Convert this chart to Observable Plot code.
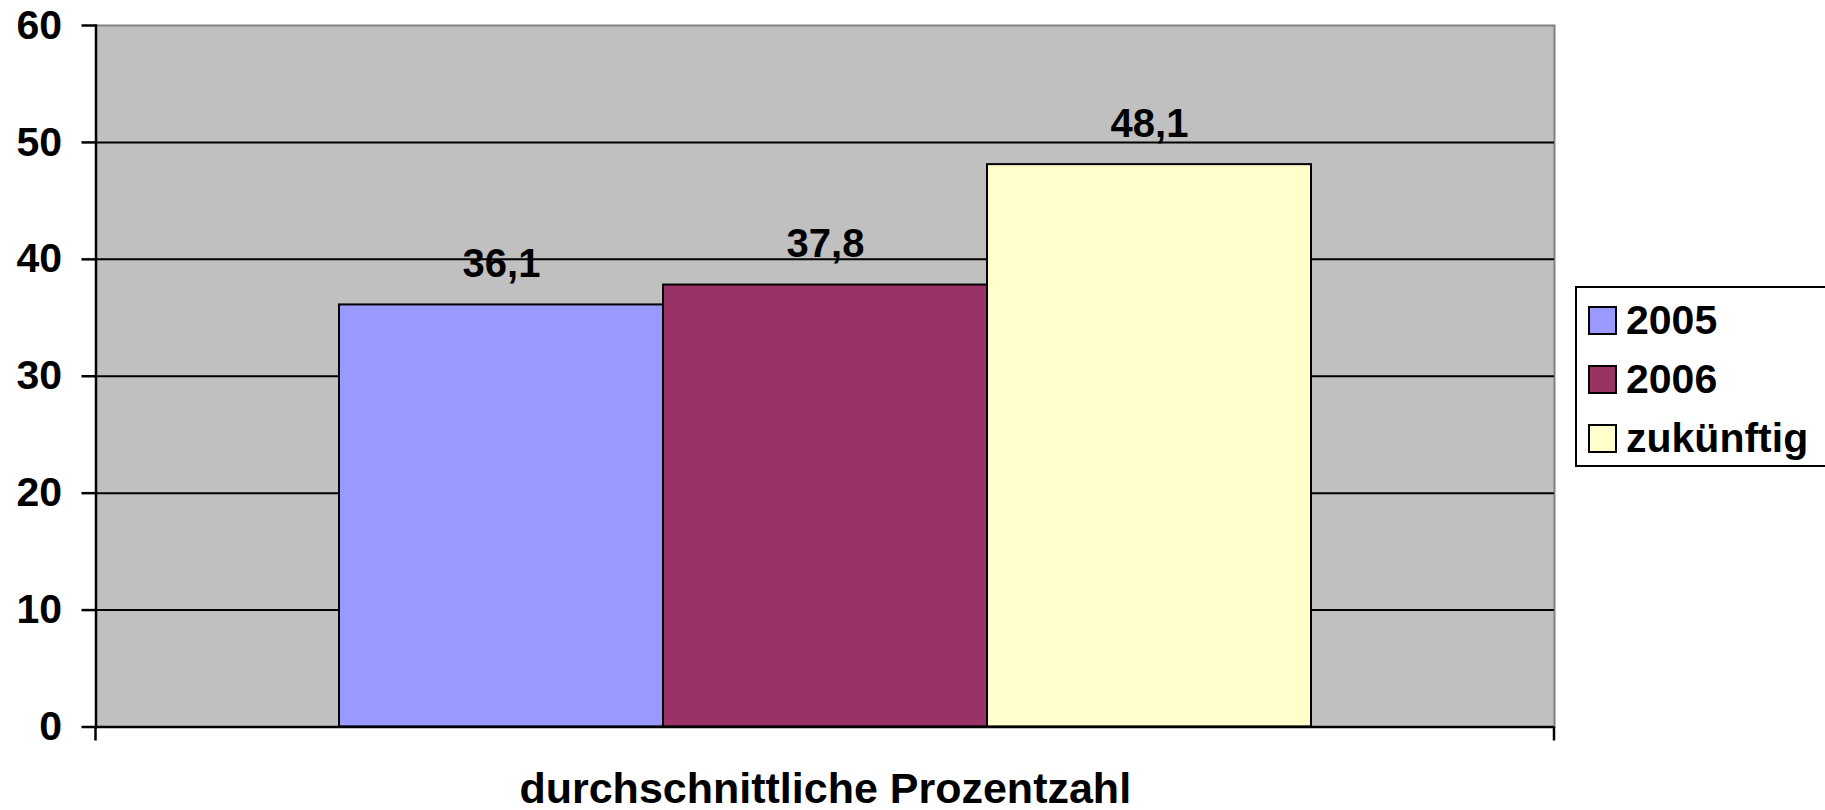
<!DOCTYPE html>
<html>
<head>
<meta charset="utf-8">
<script src="https://cdn.jsdelivr.net/npm/d3@7"></script>
<script src="https://cdn.jsdelivr.net/npm/@observablehq/plot@0.6"></script>
<style>
  html, body { margin: 0; padding: 0; background: #fff; }
  body { font-family: "Liberation Sans", Arial, sans-serif; }
  #wrap { position: relative; width: 1825px; height: 810px; overflow: hidden; }
  #legend { position: absolute; left: 1575px; top: 286px; width: 252px; height: 181px;
    border: 2px solid #000; box-sizing: border-box; background: #fff; }
  .row { position: absolute; left: 0; height: 41px; }
  .sw { position: absolute; left: 11px; width: 29px; height: 29px; border: 2px solid #000; box-sizing: border-box; }
  .lbl { position: absolute; left: 49px; font-size: 41px; font-weight: bold; line-height: 41px; white-space: nowrap; color: #000; }
</style>
</head>
<body>
<div id="wrap"></div>
<script>
const series = ["2005", "2006", "zukünftig"];
const values = [36.1, 37.8, 48.1];
const colors = ["#9999FF", "#993366", "#FFFFCC"];
const category = "durchschnittliche Prozentzahl";
const yTicks = [0, 10, 20, 30, 40, 50, 60];

const data = series.map((s, i) => ({series: s, value: values[i]}));
const fmt = v => v.toFixed(1).replace(".", ",");

const W = 1825, H = 810;
const mL = 95.5, mR = 271, mT = 25, mB = 83.5;

const edgeTicks = (index, scales, vals, dims) => {
  const g = d3.create("svg:g");
  const yb = dims.height - dims.marginBottom;
  for (const x of [dims.marginLeft, dims.width - dims.marginRight]) {
    g.append("line").attr("x1", x).attr("x2", x).attr("y1", yb).attr("y2", yb + 14)
      .attr("stroke", "#000").attr("stroke-width", 2.5);
  }
  return g.node();
};

const plot = Plot.plot({
  width: W, height: H,
  marginLeft: mL, marginRight: mR, marginTop: mT, marginBottom: mB,
  style: {fontFamily: "'Liberation Sans', Arial, sans-serif", background: "transparent", overflow: "visible"},
  x: {domain: series, paddingInner: 0, paddingOuter: 0.745, axis: null},
  y: {domain: [0, 60], axis: null},
  color: {domain: series, range: colors},
  marks: [
    Plot.frame({fill: "#C0C0C0", stroke: "#808080", strokeWidth: 2}),
    Plot.gridY(yTicks.filter(d => d > 0 && d < 60), {stroke: "#000", strokeOpacity: 1, strokeWidth: 2}),
    Plot.barY(data, {x: "series", y: "value", fill: "series", stroke: "#000", strokeWidth: 2}),
    Plot.frame({anchor: "left", stroke: "#000", strokeWidth: 2.5}),
    Plot.ruleY([0], {stroke: "#000", strokeWidth: 2.5}),
    Plot.axisY({ticks: yTicks, tickSize: 14, tickPadding: 20, fontSize: 41, fontWeight: "bold",
      stroke: "#000", strokeWidth: 2.5, tickFormat: d => String(d), label: null, fill: "#000"}),
    Plot.text(data, {x: "series", y: "value", text: d => fmt(d.value), dy: -28, lineAnchor: "bottom",
      fontSize: 40, fontWeight: "bold", fill: "#000"}),
    Plot.text([category], {frameAnchor: "bottom", text: d => d, dy: 76, lineAnchor: "bottom",
      fontSize: 43, fontWeight: "bold", fill: "#000"}),
    edgeTicks
  ]
});

const wrap = document.getElementById("wrap");
wrap.appendChild(plot);

const legend = document.createElement("div");
legend.id = "legend";
series.forEach((s, i) => {
  const row = document.createElement("div");
  row.className = "row";
  row.style.top = (18 + 59 * i) + "px";
  const sw = document.createElement("div");
  sw.className = "sw";
  sw.style.top = "0px";
  sw.style.background = colors[i];
  const lbl = document.createElement("div");
  lbl.className = "lbl";
  lbl.style.top = "-6px";
  lbl.textContent = s;
  row.appendChild(sw);
  row.appendChild(lbl);
  legend.appendChild(row);
});
wrap.appendChild(legend);
</script>
</body>
</html>
